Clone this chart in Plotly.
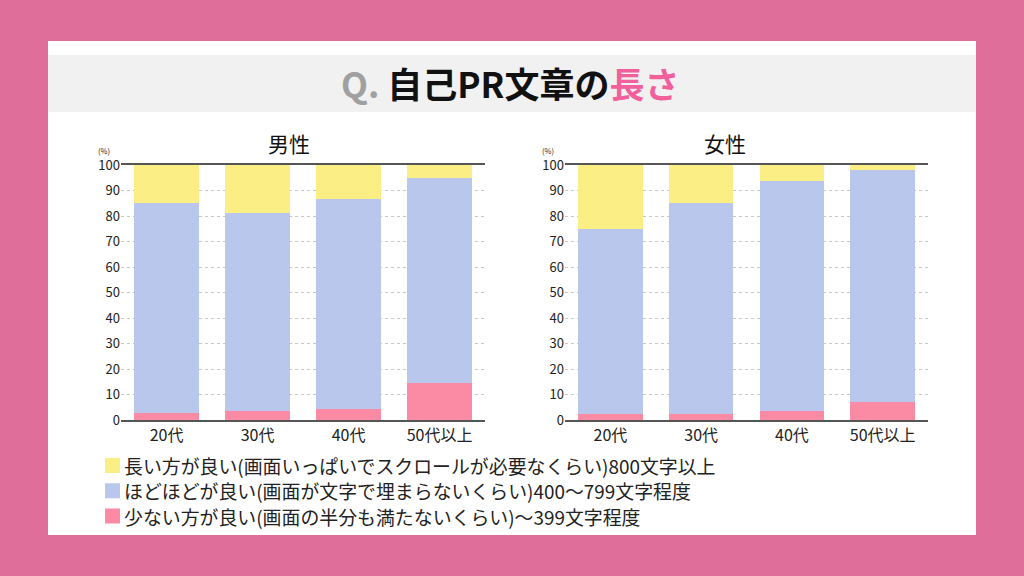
import plotly.graph_objects as go

categories = ["20代", "30代", "40代", "50代以上"]
series_names = [
    "長い方が良い(画面いっぱいでスクロールが必要なくらい)800文字以上",
    "ほどほどが良い(画面が文字で埋まらないくらい)400～799文字程度",
    "少ない方が良い(画面の半分も満たないくらい)～399文字程度",
]
male_short = [2.6, 3.7, 4.3, 14.6]
male_middle = [82.4, 77.3, 82.4, 80.4]
male_long = [15.0, 19.0, 13.3, 5.0]
female_short = [2.4, 2.4, 3.5, 6.9]
female_middle = [72.4, 82.8, 90.2, 91.1]
female_long = [25.2, 14.8, 6.3, 2.0]
y_ticks = [0, 10, 20, 30, 40, 50, 60, 70, 80, 90, 100]

colors = {"long": "#FAEE85", "middle": "#B9C7ED", "short": "#FB8AA4"}
legend_colors = [colors["long"], colors["middle"], colors["short"]]
FONT = "Noto Sans CJK JP"

fig = go.Figure()

def add_group(short, middle, long_, xa, ya):
    for key, vals, name in [("short", short, series_names[2]),
                            ("middle", middle, series_names[1]),
                            ("long", long_, series_names[0])]:
        fig.add_trace(go.Bar(
            x=categories, y=vals, name=name, marker_color=colors[key],
            marker_line_width=0, xaxis=xa, yaxis=ya, legendgroup=key,
            showlegend=False, width=0.71,
        ))

add_group(male_short, male_middle, male_long, "x", "y")
add_group(female_short, female_middle, female_long, "x2", "y2")

W, H = 1024, 576
def px(x): return x / W
def py(y): return 1 - y / H

ydom = [py(420), py(165)]
axis_common = dict(showline=True, linecolor="#555", linewidth=1.5, mirror=True,
                   ticks="", tickfont=dict(size=16, color="#222", family=FONT),
                   showgrid=False, zeroline=False, automargin=False, fixedrange=True)
yaxis_common = dict(range=[0, 100], tickvals=y_ticks, showgrid=True,
                    gridcolor="#C8C8C8", griddash="dot", gridwidth=1,
                    showline=False, zeroline=False, ticks="", automargin=False,
                    tickfont=dict(size=13, color="#222", family=FONT), fixedrange=True)

fig.update_layout(
    template="none",
    width=W, height=H, autosize=False, barmode="stack",
    margin=dict(l=0, r=0, t=0, b=0, pad=0),
    paper_bgcolor="#E06E9B", plot_bgcolor="rgba(0,0,0,0)",
    font=dict(family=FONT),
    xaxis=dict(domain=[px(121), px(485)], anchor="y", **axis_common),
    xaxis2=dict(domain=[px(565), px(928)], anchor="y2", **axis_common),
    yaxis=dict(domain=ydom, anchor="x", **yaxis_common),
    yaxis2=dict(domain=ydom, anchor="x2", **yaxis_common),
    showlegend=False,
)

fig.add_shape(type="rect", xref="paper", yref="paper", x0=px(48), x1=px(976),
              y0=py(535), y1=py(41), fillcolor="white", line_width=0, layer="below")
fig.add_shape(type="rect", xref="paper", yref="paper", x0=px(48), x1=px(976),
              y0=py(112), y1=py(55), fillcolor="#F1F1F1", line_width=0, layer="below")

def ann(x, y, text, size, color="#111", xanchor="center"):
    fig.add_annotation(xref="paper", yref="paper", x=px(x), y=py(y), showarrow=False,
                       text=text, xanchor=xanchor, yanchor="middle",
                       font=dict(size=size, color=color, family=FONT))

ann(510, 82, "<b><span style='color:#A0A0A0'>Q.</span> 自己PR文章の<span style='color:#F2609B'>長さ</span></b>", 35)
ann(289, 143, "男性", 21)
ann(725, 143, "女性", 21)
ann(104, 150, "(%)", 7.5, "#222")
ann(548, 150, "(%)", 7.5, "#222")

# legend
for i, (name, col) in enumerate(zip(series_names, legend_colors)):
    yc = 465.5 + i * 25.25
    fig.add_shape(type="rect", xref="paper", yref="paper",
                  x0=px(105), x1=px(120), y0=py(yc + 7.5), y1=py(yc - 7.5),
                  fillcolor=col, line_width=0)
    ann(122, yc, name, 18.9, "#222", xanchor="left")

fig.write_html("out.html", config={"displayModeBar": False, "responsive": False},
               post_script="document.body.style.margin='0';document.body.style.overflow='hidden';")
